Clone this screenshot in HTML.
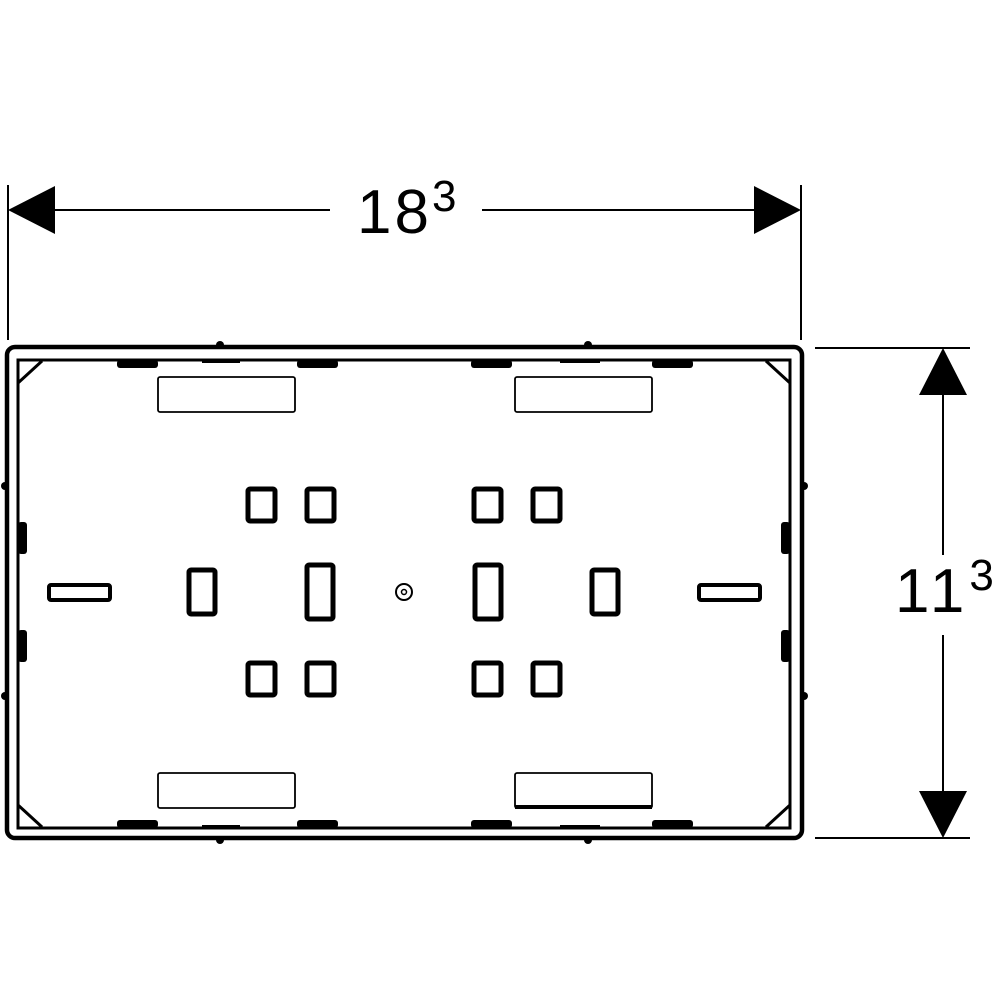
<!DOCTYPE html>
<html><head><style>html,body{margin:0;padding:0;background:#fff}svg{display:block}</style></head><body>
<svg width="1000" height="1000" viewBox="0 0 1000 1000" xmlns="http://www.w3.org/2000/svg">
<g stroke="#000" fill="none">
<line x1="8" y1="185" x2="8" y2="340" stroke-width="2"/>
<line x1="801" y1="185" x2="801" y2="340" stroke-width="2"/>
<line x1="50" y1="210" x2="330" y2="210" stroke-width="2"/>
<line x1="482" y1="210" x2="760" y2="210" stroke-width="2"/>
<line x1="815" y1="348" x2="970" y2="348" stroke-width="2"/>
<line x1="815" y1="838" x2="970" y2="838" stroke-width="2"/>
<line x1="943" y1="395" x2="943" y2="555" stroke-width="2"/>
<line x1="943" y1="635" x2="943" y2="795" stroke-width="2"/>
<rect x="7" y="347" width="795" height="491" rx="8" stroke-width="4.5"/>
<rect x="18" y="360" width="772" height="468" stroke-width="3"/>
<line x1="18" y1="383" x2="42" y2="361" stroke-width="3"/>
<line x1="790" y1="383" x2="766" y2="361" stroke-width="3"/>
<line x1="18" y1="805" x2="42" y2="827" stroke-width="3"/>
<line x1="790" y1="805" x2="766" y2="827" stroke-width="3"/>
<rect x="158" y="377" width="137" height="35" rx="2" stroke-width="1.8"/>
<rect x="515" y="377" width="137" height="35" rx="2" stroke-width="1.8"/>
<rect x="158" y="773" width="137" height="35" rx="2" stroke-width="1.8"/>
<rect x="515" y="773" width="137" height="35" rx="2" stroke-width="1.8"/>
<line x1="515" y1="807" x2="652" y2="807" stroke-width="4"/>
<rect x="49" y="585" width="61" height="15" rx="2" stroke-width="4"/>
<rect x="699" y="585" width="61" height="15" rx="2" stroke-width="4"/>
<g stroke-width="5">
<rect x="248" y="489" width="27" height="32" rx="2"/>
<rect x="307" y="489" width="27" height="32" rx="2"/>
<rect x="474" y="489" width="27" height="32" rx="2"/>
<rect x="533" y="489" width="27" height="32" rx="2"/>
<rect x="248" y="663" width="27" height="32" rx="2"/>
<rect x="307" y="663" width="27" height="32" rx="2"/>
<rect x="474" y="663" width="27" height="32" rx="2"/>
<rect x="533" y="663" width="27" height="32" rx="2"/>
<rect x="189" y="570" width="26" height="44" rx="2"/>
<rect x="307" y="565" width="26" height="54" rx="2"/>
<rect x="475" y="565" width="26" height="54" rx="2"/>
<rect x="592" y="570" width="26" height="44" rx="2"/>
</g>
<circle cx="404" cy="592" r="8" stroke-width="2"/>
<circle cx="404" cy="592" r="2.5" stroke-width="1.5"/>
</g>
<g fill="#000">
<polygon points="8,210 55,186 55,234"/>
<polygon points="801,210 754,186 754,234"/>
<polygon points="943,348 919,395 967,395"/>
<polygon points="943,838 919,791 967,791"/>
<rect x="117" y="360" width="41" height="8" rx="3"/>
<rect x="297" y="360" width="41" height="8" rx="3"/>
<rect x="471" y="360" width="41" height="8" rx="3"/>
<rect x="652" y="360" width="41" height="8" rx="3"/>
<rect x="117" y="820" width="41" height="8" rx="3"/>
<rect x="297" y="820" width="41" height="8" rx="3"/>
<rect x="471" y="820" width="41" height="8" rx="3"/>
<rect x="652" y="820" width="41" height="8" rx="3"/>
<rect x="202" y="360" width="38" height="3"/>
<rect x="560" y="360" width="40" height="3"/>
<rect x="202" y="825" width="38" height="3"/>
<rect x="560" y="825" width="40" height="3"/>
<rect x="18" y="522" width="9" height="32" rx="3"/>
<rect x="18" y="630" width="9" height="32" rx="3"/>
<rect x="781" y="522" width="9" height="32" rx="3"/>
<rect x="781" y="630" width="9" height="32" rx="3"/>
<circle cx="220" cy="345" r="4"/><circle cx="588" cy="345" r="4"/>
<circle cx="220" cy="840" r="4"/><circle cx="588" cy="840" r="4"/>
<circle cx="5" cy="486" r="4"/><circle cx="5" cy="696" r="4"/>
<circle cx="804" cy="486" r="4"/><circle cx="804" cy="696" r="4"/>
</g>
<text x="357" y="233" font-family="Liberation Sans, sans-serif" font-size="62" letter-spacing="3" fill="#000">18<tspan font-size="44" dy="-22">3</tspan></text>
<text x="895" y="612" font-family="Liberation Sans, sans-serif" font-size="62" letter-spacing="5" fill="#000">11<tspan font-size="44" dy="-22">3</tspan></text>
</svg>
</body></html>
